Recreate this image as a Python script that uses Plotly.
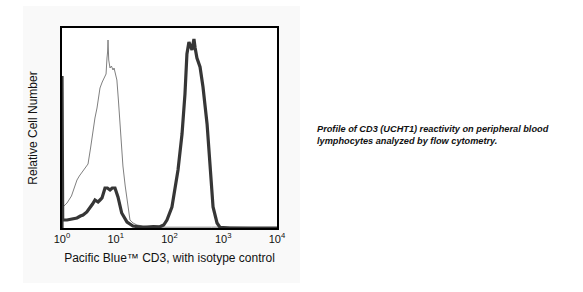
import plotly.graph_objects as go

# Isotype control (thin line): intensity, relative count
iso_x = [1.0, 1.1, 1.24, 1.5, 1.9, 2.1, 2.36, 2.7, 3.05, 3.4, 3.78, 4.1, 4.48, 4.8, 5.09, 5.6, 6.31, 6.6, 6.87, 7.05, 7.18, 7.4, 7.82, 8.3, 8.89, 9.3, 9.68, 10.5, 11.2, 12.0, 13.6, 15.0, 16.2, 18.4, 21.0, 24.8, 32.0, 43.4, 80.0, 150.0, 270.0, 600.0, 1200.0, 2140.0, 4000.0, 10000.0]
iso_y = [10, 11, 12.5, 16, 24, 26, 28, 30, 32, 40, 49, 55, 60, 66, 70, 73, 76, 77, 85, 88, 94, 84, 80, 81, 79, 80, 78, 74, 64, 52, 31, 21, 14, 4, 2.5, 1.5, 1.0, 0.6, 0.4, 0.3, 0.3, 0.4, 0.5, 0.3, 0.2, 0.2]

# CD3 stained (thick line)
cd3_x = [1.0, 1.0, 1.03, 1.24, 1.5, 1.9, 2.2, 2.46, 2.9, 3.32, 3.7, 4.11, 4.68, 5.1, 5.55, 6.31, 7.0, 7.82, 8.6, 9.68, 11.0, 12.9, 16.2, 20.9, 32.0, 50.0, 66.0, 78.0, 89.6, 111.0, 126.0, 144.0, 171.0, 194.0, 211.0, 222.0, 230.0, 262.0, 275.0, 285.0, 300.0, 324.0, 370.0, 420.0, 500.0, 568.0, 646.0, 766.0, 870.0, 1330.0, 10000.0]
cd3_y = [0, 76, 4, 4, 4.5, 5, 6, 6.5, 8, 10, 12, 14, 13, 14, 15, 20, 20, 19, 20, 20, 15.5, 7.5, 3, 1, 0.3, 0.7, 0.6, 1.5, 4, 10.5, 19, 29, 47, 67, 87, 92, 93, 89, 94, 94.5, 90, 85, 80.5, 70.5, 52, 31, 10.5, 2.5, 0.3, 0, 0]

tick_vals = [1, 10, 100, 1000, 10000]
tick_text = ["10<sup>0</sup>", "10<sup>1</sup>", "10<sup>2</sup>", "10<sup>3</sup>", "10<sup>4</sup>"]

fig = go.Figure()
fig.add_trace(go.Scatter(x=iso_x, y=iso_y, mode="lines",
                         line=dict(color="#808080", width=1), showlegend=False))
fig.add_trace(go.Scatter(x=cd3_x, y=cd3_y, mode="lines",
                         line=dict(color="#363636", width=3.2), showlegend=False))

fig.update_layout(
    width=583, height=292,
    margin=dict(l=62, r=306, t=28, b=64),
    paper_bgcolor="white", plot_bgcolor="white",
    font=dict(family="Liberation Sans, Arial, sans-serif", color="#111"),
    shapes=[
        dict(type="rect", xref="paper", yref="paper", x0=-0.1814, x1=1.107, y0=-0.275, y1=1.11,
             fillcolor="#f9f9f9", line=dict(width=0), layer="below"),
        dict(type="rect", xref="paper", yref="paper", x0=0, x1=1, y0=0, y1=1,
             fillcolor="white", line=dict(width=0), layer="below"),
    ],
    xaxis=dict(type="log", range=[0, 4], tickvals=tick_vals, ticktext=tick_text,
               ticks="", showgrid=False, zeroline=False,
               showline=True, mirror=True, linecolor="black", linewidth=1.5,
               tickfont=dict(size=11),
               title=dict(text="Pacific Blue™ CD3, with isotype control", font=dict(size=12), standoff=10)),
    yaxis=dict(range=[0, 100], showticklabels=False, ticks="", showgrid=False, zeroline=False,
               showline=True, mirror=True, linecolor="black", linewidth=1.5,
               title=dict(text="Relative Cell Number", font=dict(size=12), standoff=20)),
    annotations=[
        dict(xref="paper", yref="paper", x=1.177, y=0.4675, xanchor="left", yanchor="middle",
             align="left", showarrow=False,
             text="<b><i>Profile of CD3 (UCHT1) reactivity on peripheral blood<br>lymphocytes analyzed by flow cytometry.</i></b>",
             font=dict(size=9.2, color="#111"))
    ],
)

fig.write_html("out.html")
